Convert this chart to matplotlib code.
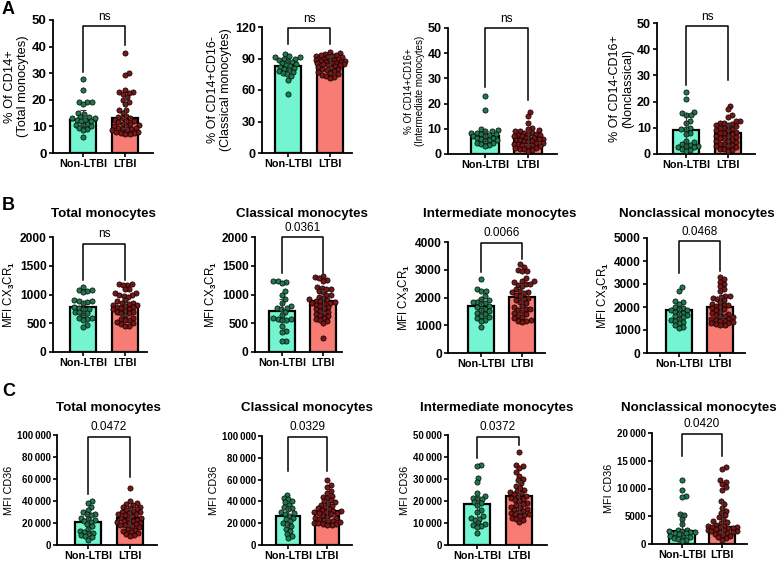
import numpy as np
import matplotlib.pyplot as plt

plt.rcParams['font.family'] = ['Liberation Sans', 'DejaVu Sans']
plt.rcParams['font.weight'] = 'bold'
plt.rcParams['mathtext.fontset'] = 'custom'
plt.rcParams['mathtext.rm'] = 'Liberation Sans:bold'
plt.rcParams['mathtext.it'] = 'Liberation Sans:bold'
plt.rcParams['mathtext.bf'] = 'Liberation Sans:bold'

groups = ['Non-LTBI', 'LTBI']

# ---------------- row A : % of parent ----------------
a1_non = [28, 23.5, 19, 19, 19, 18.5, 15, 14.5, 13.5, 13.5, 13, 13, 12.5, 12.5, 12, 12,
          11, 10.5, 10.5, 10, 9.5, 9, 8.5, 6]
a1_ltbi = [37.5, 30, 29.5, 23.5, 23, 23, 22.5, 22, 21, 20, 19, 18.5, 16, 16, 15, 14, 13.5,
           13, 13, 12.5, 12, 12, 11.5, 11, 11, 10.5, 10, 10, 9.5, 9.5, 9, 9, 8.5, 8.5, 8, 8,
           7.5, 7.5, 7, 7]
a1_bar = [12.5, 13]
a1_err = [(10, 16), (9.5, 21)]

a2_non = [94, 92, 91, 91, 90, 90, 89, 88, 87, 86, 85, 84, 83, 82, 81, 80, 79, 78, 77, 76,
          75, 73, 70, 56]
a2_ltbi = [96, 95, 94, 93, 93, 92, 92, 91, 91, 90, 90, 90, 89, 89, 88, 88, 88, 87, 87, 86,
           86, 86, 85, 85, 84, 84, 83, 82, 81, 80, 80, 79, 78, 77, 76, 75, 74, 73, 72, 71]
a2_bar = [82.5, 87]
a2_err = [(77, 89), (81, 92)]

a3_non = [23, 17.5, 10, 9.5, 9, 9, 8.5, 8.5, 8, 8, 7.5, 7, 7, 6.5, 6.5, 6, 5.5, 5.5, 5,
          4.5, 4.5, 4, 3.5, 3]
a3_ltbi = [16.5, 15, 12.5, 10.5, 10, 9.5, 9, 9, 8.5, 8.5, 8, 8, 7.5, 7.5, 7, 7, 6.5, 6.5, 6,
           6, 6, 5.5, 5.5, 5, 5, 5, 4.5, 4.5, 4, 4, 3.5, 3.5, 3, 3, 2.5, 2.5, 2, 2, 1.5, 1]
a3_bar = [7, 6.3]
a3_err = [(5, 9), (4, 9)]

a4_non = [23.5, 21, 16, 15.5, 15, 15, 12.5, 12, 10, 9.5, 9.5, 8, 7.5, 5, 4.5, 4, 3.5, 3, 3,
          2.5, 2.5, 2, 1.5, 1]
a4_ltbi = [18.5, 17, 15, 14, 12.5, 12.5, 12, 12, 11.5, 11, 11, 10.5, 10, 10, 9.5, 9, 9, 8.5,
           8, 8, 7.5, 7, 7, 6.5, 6, 6, 5.5, 5, 5, 4.5, 4, 4, 3.5, 3, 3, 2.5, 2, 2, 1.5, 1]
a4_bar = [9.2, 7.9]
a4_err = [(3, 15.5), (3.5, 11.5)]

# ---------------- row B : MFI CX3CR1 ----------------
b1_non = [1130, 1080, 1070, 1060, 1050, 910, 890, 880, 870, 860, 790, 770, 750, 740, 700,
          690, 680, 650, 600, 590, 570, 560, 470, 430]
b1_ltbi = [1190, 1180, 1170, 1160, 1100, 1090, 1030, 1020, 1000, 990, 980, 960, 900, 880,
           860, 850, 840, 820, 810, 800, 790, 780, 760, 750, 740, 720, 700, 690, 680, 670,
           640, 600, 580, 560, 550, 520, 500, 480, 460, 450]
b1_bar = [780, 790]
b1_err = [(640, 890), (650, 930)]

b2_non = [1240, 1230, 1210, 1200, 1060, 1000, 920, 860, 800, 770, 760, 740, 700, 640, 600,
          580, 570, 560, 550, 450, 360, 340, 200, 190]
b2_ltbi = [1320, 1300, 1280, 1260, 1240, 1130, 1120, 1100, 1090, 1060, 1040, 1000, 990, 960,
           940, 920, 900, 890, 880, 870, 860, 850, 840, 820, 800, 780, 760, 740, 720, 700,
           680, 660, 640, 620, 600, 580, 560, 540, 500, 250]
b2_bar = [715, 888]
b2_err = [(520, 920), (700, 1080)]

b3_non = [2650, 2300, 2250, 2250, 2050, 1950, 1900, 1850, 1850, 1800, 1750, 1700, 1650, 1600,
          1550, 1500, 1450, 1400, 1350, 1300, 1250, 1200, 1150, 950]
b3_ltbi = [3200, 3100, 3000, 2950, 2950, 2700, 2600, 2600, 2550, 2500, 2500, 2450, 2400,
           2300, 2250, 2200, 2200, 2150, 2100, 2050, 2000, 1950, 1900, 1850, 1800, 1700,
           1650, 1600, 1600, 1550, 1500, 1450, 1400, 1350, 1300, 1250, 1200, 1150, 1150, 1100]
b3_bar = [1700, 2020]
b3_err = [(1450, 1950), (1600, 2500)]

b4_non = [2850, 2700, 2250, 2200, 2150, 2000, 1950, 1900, 1850, 1850, 1800, 1750, 1700, 1650,
          1600, 1550, 1500, 1450, 1400, 1350, 1300, 1200, 1150, 1100]
b4_ltbi = [3300, 3200, 3100, 3000, 2900, 2800, 2700, 2500, 2500, 2450, 2400, 2350, 2300,
           2200, 2150, 2100, 2100, 2050, 2000, 1950, 1900, 1850, 1800, 1750, 1700, 1650,
           1600, 1600, 1550, 1500, 1500, 1450, 1400, 1400, 1350, 1300, 1300, 1250, 1200, 1200]
b4_bar = [1850, 2000]
b4_err = [(1500, 1950), (1550, 2450)]

# ---------------- row C : MFI CD36 ----------------
c1_non = [40000, 38000, 35000, 32000, 30000, 28000, 28000, 27000, 25000, 24000, 23000, 22000,
          21000, 19000, 17000, 15000, 13000, 12000, 11000, 10000, 9000, 8000, 7000, 5000]
c1_ltbi = [52000, 40000, 38000, 37000, 36000, 35000, 35000, 34000, 33000, 32000, 31000, 30000,
           30000, 29000, 28000, 28000, 27000, 26000, 25000, 25000, 24000, 23000, 22000, 22000,
           21000, 20000, 20000, 19000, 18000, 18000, 17000, 16000, 15000, 14000, 13000, 12000,
           11000, 10000, 9000, 8000]
c1_bar = [21000, 25000]
c1_err = [(11000, 28000), (18000, 33000)]

c2_non = [46000, 43000, 42000, 40000, 39000, 37000, 35000, 34000, 33000, 30000, 29000, 28000,
          27000, 25000, 24000, 22000, 20000, 19000, 17000, 15000, 13000, 10000, 8000, 6000]
c2_ltbi = [60000, 55000, 53000, 50000, 48000, 45000, 44000, 43000, 41000, 40000, 39000, 38000,
           37000, 36000, 35000, 34000, 33000, 32000, 31000, 31000, 30000, 30000, 29000, 29000,
           28000, 27000, 26000, 25000, 25000, 24000, 23000, 22000, 22000, 21000, 20000, 20000,
           19000, 19000, 18000, 18000]
c2_bar = [26500, 31000]
c2_err = [(17000, 35000), (24000, 40000)]

c3_non = [36500, 36000, 30500, 28500, 23500, 22500, 21500, 21000, 21000, 19500, 19000, 18000,
          16000, 15000, 13000, 12500, 12000, 11500, 10000, 9500, 9000, 8500, 8000, 5500]
c3_ltbi = [42500, 36500, 36000, 35000, 33000, 31500, 30000, 29500, 28000, 27000, 26000, 25000,
           24500, 24000, 23500, 23000, 22500, 22000, 21500, 21000, 20500, 20000, 19000, 18500,
           18000, 17500, 17000, 16500, 16000, 15500, 15000, 14500, 14000, 14000, 13500, 13000,
           12500, 12000, 11500, 10500]
c3_bar = [18500, 22200]
c3_err = [(10000, 22500), (15000, 29000)]

c4_non = [11600, 9800, 8600, 8500, 5400, 5200, 4500, 3600, 2600, 2500, 2400, 2300, 2200, 2100,
          2000, 1900, 1800, 1500, 1300, 1200, 1000, 900, 700, 500]
c4_ltbi = [13900, 13500, 11600, 11200, 10900, 10200, 9800, 7700, 7200, 6500, 6000, 5500, 5200,
           4800, 4500, 4200, 4000, 3800, 3500, 3300, 3200, 3100, 3000, 3000, 2900, 2800, 2700,
           2600, 2500, 2400, 2300, 2200, 2100, 2000, 1800, 1600, 1400, 1200, 1000, 800]
c4_bar = [2350, 3100]
c4_err = [(1200, 5400), (2000, 7700)]

p_texts = ['ns', 'ns', 'ns', 'ns', 'ns', '0.0361', '0.0066', '0.0468',
           '0.0472', '0.0329', '0.0372', '0.0420']

# ---------------- styling / layout ----------------
W, H = 777, 563
bar_colors = ['#72F5D0', '#F97C74']
dot_colors = ['#1E7A4E', '#7A1616']
dot_px = 5.3

fig = plt.figure(figsize=(W / 100, H / 100), dpi=100)

# box = (left, right, top, bottom, centre0, centre1) in pixels
# yfs = y-label font size, tfs = y-tick font size
panels = [
    dict(non=a1_non, ltbi=a1_ltbi, bar=a1_bar, err=a1_err, ymax=50, step=10,
         ylabel='% Of CD14+\n(Total monocytes)', box=(53, 153, 20, 153, 83, 125),
         legs=(30.6, 40.6), top=47.7, yfs=9.3, tfs=9.5),
    dict(non=a2_non, ltbi=a2_ltbi, bar=a2_bar, err=a2_err, ymax=120, step=30,
         ylabel='% Of CD14+CD16-\n(Classical monocytes)', box=(262, 352, 27, 153, 288, 330),
         legs=(104, 104), top=119, yfs=9.0, tfs=9.0),
    dict(non=a3_non, ltbi=a3_ltbi, bar=a3_bar, err=a3_err, ymax=50, step=10,
         ylabel='% Of CD14+CD16+\n(Intermediate monocytes)', box=(448, 557, 28, 154, 485, 528),
         legs=(26.7, 21.4), top=50, yfs=7.0, tfs=9.0),
    dict(non=a4_non, ltbi=a4_ltbi, bar=a4_bar, err=a4_err, ymax=50, step=10,
         ylabel='% Of CD14-CD16+\n(Nonclassical)', box=(657, 755, 23, 154, 686, 728),
         legs=(26.4, 28.3), top=48.7, yfs=9.0, tfs=9.0),
    dict(non=b1_non, ltbi=b1_ltbi, bar=b1_bar, err=b1_err, ymax=2000, step=500,
         ylabel=r'MFI CX$_3$CR$_1$', box=(53, 147, 237, 352, 83, 125),
         legs=(1246, 1246), top=1884, title='Total monocytes', tpos=(103, 214),
         yfs=8.3, tfs=8.6),
    dict(non=b2_non, ltbi=b2_ltbi, bar=b2_bar, err=b2_err, ymax=2000, step=500,
         ylabel=r'MFI CX$_3$CR$_1$', box=(255, 342, 237, 352, 282, 323),
         legs=(1366, 1366), top=2000, title='Classical monocytes', tpos=(302, 214),
         yfs=8.3, tfs=8.6),
    dict(non=b3_non, ltbi=b3_ltbi, bar=b3_bar, err=b3_err, ymax=4000, step=1000,
         ylabel=r'MFI CX$_3$CR$_1$', box=(448, 545, 242, 353, 481, 522),
         legs=(2925, 3403), top=3976, title='Intermediate monocytes', tpos=(500, 214),
         yfs=8.3, tfs=8.6),
    dict(non=b4_non, ltbi=b4_ltbi, bar=b4_bar, err=b4_err, ymax=5000, step=1000,
         ylabel=r'MFI CX$_3$CR$_1$', box=(647, 745, 238, 353, 679, 720),
         legs=(3469, 3571), top=4854, title='Nonclassical monocytes', tpos=(697, 214),
         yfs=8.3, tfs=8.6),
    dict(non=c1_non, ltbi=c1_ltbi, bar=c1_bar, err=c1_err, ymax=100000, step=20000,
         ylabel='MFI CD36', box=(57, 157, 435, 545, 88, 130),
         legs=(46700, 61500), top=98500, title='Total monocytes', tpos=(108, 408),
         yfs=7.8, tfs=7.0),
    dict(non=c2_non, ltbi=c2_ltbi, bar=c2_bar, err=c2_err, ymax=100000, step=20000,
         ylabel='MFI CD36', box=(262, 352, 436, 545, 288, 327),
         legs=(68000, 68000), top=99400, title='Classical monocytes', tpos=(307, 408),
         yfs=7.8, tfs=7.0),
    dict(non=c3_non, ltbi=c3_ltbi, bar=c3_bar, err=c3_err, ymax=50000, step=10000,
         ylabel='MFI CD36', box=(448, 547, 435, 545, 477, 519),
         legs=(39600, 45600), top=49300, title='Intermediate monocytes', tpos=(497, 408),
         yfs=7.8, tfs=7.0),
    dict(non=c4_non, ltbi=c4_ltbi, bar=c4_bar, err=c4_err, ymax=20000, step=5000,
         ylabel='MFI CD36', box=(652, 747, 433, 544, 682, 722),
         legs=(15800, 15800), top=19900, title='Nonclassical monocytes', tpos=(699, 408),
         yfs=7.8, tfs=7.0),
]


def tick_fmt(v):
    v = int(round(v))
    if v >= 10000:
        return f'{v:,}'.replace(',', '\u2009')
    return str(v)


def swarm(values, px_per_unit, d, maxw):
    # beeswarm in pixel space, kept within +-maxw; returns x offsets in pixels
    ys = np.asarray(values, float) * px_per_unit
    order = np.argsort(ys)
    placed = []
    offs = np.zeros(len(ys))
    grid = list(np.linspace(-maxw, maxw, 15))
    for i in order:
        y = ys[i]
        near = [(px, py) for px, py in placed if abs(py - y) < d]
        cands = [0.0] + grid
        for px, py in near:
            dx = np.sqrt(d * d - (py - y) ** 2)
            cands += [px + dx, px - dx]
        cands = [c for c in cands if abs(c) <= maxw + 1e-9]
        cands.sort(key=abs)

        def gap(c):
            if not near:
                return np.inf
            return min(np.hypot(c - px, y - py) for px, py in near)

        best = None
        for c in cands:
            if gap(c) >= d - 1e-6:
                best = c
                break
        if best is None:
            best = max(cands, key=gap)
        offs[i] = best
        placed.append((best, y))
    return offs


for k, p in enumerate(panels):
    left, right, top, bottom, c0, c1 = p['box']
    ax = fig.add_axes([left / W, 1 - bottom / H, (right - left) / W, (bottom - top) / H])
    s = c1 - c0
    ax.set_xlim((left - c0) / s, (right - c0) / s)
    ax.set_ylim(0, p['ymax'])
    ppu = (bottom - top) / p['ymax']

    ax.bar([0, 1], p['bar'], width=0.64, color=bar_colors, edgecolor='black',
           linewidth=1.6, zorder=1)
    for g, vals in enumerate([p['non'], p['ltbi']]):
        offs = swarm(vals, ppu, dot_px * 0.85, 14.5) / s
        ax.scatter(g + offs, vals, s=14, color=dot_colors[g], edgecolor='black',
                   linewidth=0.5, zorder=3, clip_on=False)
        lo, hi = p['err'][g]
        ax.errorbar(g, p['bar'][g], yerr=[[p['bar'][g] - lo], [hi - p['bar'][g]]],
                    fmt='none', ecolor='#3a3a3a', elinewidth=0.8, capsize=2.5,
                    capthick=0.8, zorder=4)

    # significance bracket
    ax.plot([0, 0, 1, 1], [p['legs'][0], p['top'], p['top'], p['legs'][1]],
            color='black', lw=1.1, clip_on=False, zorder=5)
    ax.annotate(p_texts[k], xy=(0.5, p['top']), xytext=(0, 2.5), textcoords='offset points',
                ha='center', va='bottom', fontsize=8.5, fontweight='normal',
                annotation_clip=False)

    ticks = np.arange(0, p['ymax'] + 1, p['step'])
    ax.set_yticks(ticks)
    ax.set_yticklabels([tick_fmt(t) for t in ticks], fontsize=p['tfs'])
    ax.set_xticks([0, 1])
    ax.set_xticklabels(groups, fontsize=7.8)
    ax.tick_params(axis='both', width=1.2, length=3, pad=1.5)
    for side in ['top', 'right']:
        ax.spines[side].set_visible(False)
    for side in ['left', 'bottom']:
        ax.spines[side].set_linewidth(1.3)
    ax.set_ylabel(p['ylabel'], fontsize=p['yfs'], labelpad=2, linespacing=1.1)
    if 'title' in p:
        tx, ty = p['tpos']
        fig.text(tx / W, 1 - ty / H, p['title'], ha='center', va='center',
                 fontsize=9.6, fontweight='bold')

for letter, (x, y) in zip('ABC', [(2, 9), (2, 205), (2, 391)]):
    fig.text(x / W, 1 - y / H, letter, ha='left', va='center', fontsize=13,
             fontweight='bold')

plt.savefig('out.png', dpi=100)
